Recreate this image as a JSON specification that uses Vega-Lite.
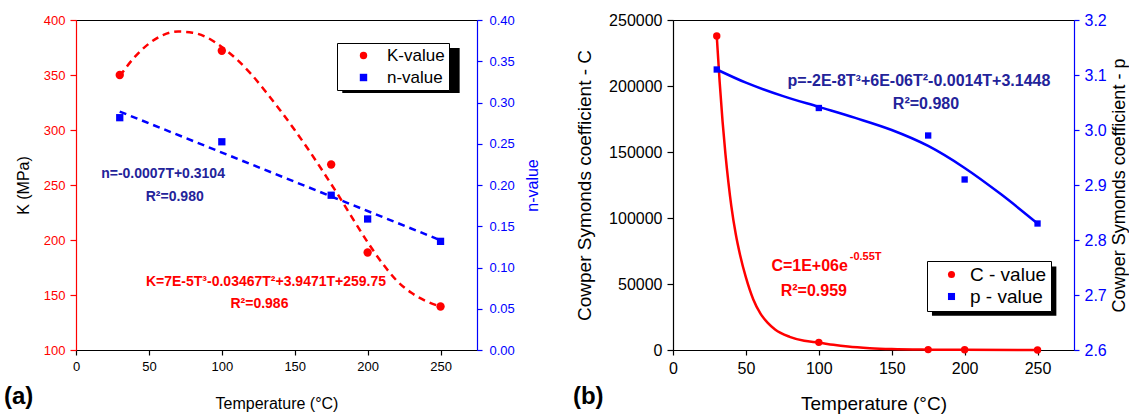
{
  "$schema": "https://vega.github.io/schema/vega-lite/v6.json",
  "background": "white",
  "padding": {"left": 3, "top": 11, "right": 0, "bottom": 0},
  "spacing": 31,
  "datasets": {
    "a_K": [
      {"T": 30, "K": 350, "series": "K-value"},
      {"T": 100, "K": 372, "series": "K-value"},
      {"T": 175, "K": 268.6, "series": "K-value"},
      {"T": 200, "K": 188.6, "series": "K-value"},
      {"T": 250, "K": 139.5, "series": "K-value"}
    ],
    "a_n": [
      {"T": 30, "n": 0.2816, "series": "n-value"},
      {"T": 100, "n": 0.2524, "series": "n-value"},
      {"T": 175, "n": 0.1876, "series": "n-value"},
      {"T": 200, "n": 0.1588, "series": "n-value"},
      {"T": 250, "n": 0.1317, "series": "n-value"}
    ],
    "a_Kfit": [
      {"T": 30, "K": 349}, {"T": 40, "K": 366}, {"T": 50, "K": 378.5}, {"T": 60, "K": 386.5},
      {"T": 70, "K": 389.5}, {"T": 80, "K": 388.5}, {"T": 90, "K": 384}, {"T": 100, "K": 375.5},
      {"T": 110, "K": 364.5}, {"T": 120, "K": 351}, {"T": 130, "K": 335}, {"T": 140, "K": 318},
      {"T": 150, "K": 300}, {"T": 160, "K": 281}, {"T": 170, "K": 261}, {"T": 180, "K": 240.5},
      {"T": 190, "K": 219}, {"T": 200, "K": 198}, {"T": 210, "K": 179}, {"T": 220, "K": 163},
      {"T": 230, "K": 152}, {"T": 240, "K": 144.5}, {"T": 250, "K": 139.5}
    ],
    "a_nfit": [
      {"T": 30, "n": 0.289}, {"T": 250, "n": 0.133}
    ],
    "b_C": [
      {"T": 30, "C": 237900, "series": "C - value"},
      {"T": 100, "C": 5800, "series": "C - value"},
      {"T": 175, "C": 300, "series": "C - value"},
      {"T": 200, "C": 150, "series": "C - value"},
      {"T": 250, "C": 60, "series": "C - value"}
    ],
    "b_p": [
      {"T": 30, "p": 3.110, "series": "p - value"},
      {"T": 100, "p": 3.040, "series": "p - value"},
      {"T": 175, "p": 2.990, "series": "p - value"},
      {"T": 200, "p": 2.910, "series": "p - value"},
      {"T": 250, "p": 2.830, "series": "p - value"}
    ],
    "b_Cfit": [
      {"T": 30, "C": 237900}, {"T": 32, "C": 203000}, {"T": 34, "C": 173000}, {"T": 36, "C": 148000},
      {"T": 38, "C": 127000}, {"T": 40, "C": 109000}, {"T": 43, "C": 88000}, {"T": 46, "C": 72000},
      {"T": 50, "C": 55000}, {"T": 55, "C": 38500}, {"T": 60, "C": 27500}, {"T": 65, "C": 20500},
      {"T": 70, "C": 15500}, {"T": 80, "C": 10000}, {"T": 90, "C": 7000}, {"T": 100, "C": 5600},
      {"T": 110, "C": 3900}, {"T": 120, "C": 2600}, {"T": 135, "C": 1400}, {"T": 150, "C": 700},
      {"T": 175, "C": 250}, {"T": 200, "C": 100}, {"T": 250, "C": 20}
    ],
    "b_pfit": [
      {"T": 30, "p": 3.110}, {"T": 50, "p": 3.086}, {"T": 75, "p": 3.062}, {"T": 100, "p": 3.042},
      {"T": 125, "p": 3.022}, {"T": 150, "p": 3.000}, {"T": 175, "p": 2.971}, {"T": 200, "p": 2.931},
      {"T": 225, "p": 2.883}, {"T": 250, "p": 2.830}
    ]
  },
  "hconcat": [
    {
      "width": 401,
      "height": 330,
      "layer": [
        {
          "layer": [
            {
              "data": {"name": "a_Kfit"},
              "mark": {"type": "line", "color": "#ff0000", "strokeWidth": 2.5, "strokeDash": [7, 5], "interpolate": "monotone"},
              "encoding": {
                "x": {"field": "T", "type": "quantitative",
                  "scale": {"domain": [0, 275], "nice": false, "zero": false},
                  "axis": {"title": "Temperature (°C)", "values": [0, 25, 50, 75, 100, 125, 150, 175, 200, 225, 250, 275],
                    "labelExpr": "datum.value % 50 === 0 && datum.value <= 250 ? datum.label : ''",
                    "tickSize": 5, "labelPadding": 5, "labelFontSize": 13, "titleFontSize": 16, "titlePadding": 22}},
                "y": {"field": "K", "type": "quantitative",
                  "scale": {"domain": [100, 400], "nice": false, "zero": false},
                  "axis": {"title": "K (MPa)", "values": [100, 125, 150, 175, 200, 225, 250, 275, 300, 325, 350, 375, 400],
                    "labelExpr": "datum.value % 50 === 0 ? datum.label : ''",
                    "tickSize": 6, "labelPadding": 5, "labelFontSize": 13, "titleFontSize": 16, "titlePadding": 12,
                    "domainColor": "#ff0000", "tickColor": "#ff0000", "labelColor": "#ff0000", "titleColor": "black"}}
              }
            },
            {
              "data": {"name": "a_K"},
              "mark": {"type": "point", "filled": true, "opacity": 1, "size": 70, "strokeWidth": 0},
              "encoding": {
                "x": {"field": "T", "type": "quantitative"},
                "y": {"field": "K", "type": "quantitative", "axis": {"title": "K (MPa)"}},
                "color": {"field": "series", "type": "nominal",
                  "scale": {"domain": ["K-value", "n-value"], "range": ["#ff0000", "#0000ff"]},
                  "legend": {"title": null, "orient": "none", "legendX": 261, "legendY": 23,
                    "fillColor": "white", "strokeColor": "black", "padding": 4, "rowPadding": 4,
                    "labelFontSize": 17, "labelColor": "black", "symbolSize": 55, "symbolOffset": 14, "labelOffset": 15}},
                "shape": {"field": "series", "type": "nominal",
                  "scale": {"domain": ["K-value", "n-value"], "range": ["circle", "square"]}}
              }
            },
            {
              "data": {"values": [{}]},
              "mark": {"type": "rect", "color": "black"},
              "encoding": {
                "x": {"datum": 182.6, "type": "quantitative"}, "x2": {"datum": 263.1},
                "y": {"datum": 374.5, "type": "quantitative"}, "y2": {"datum": 333.6}
              }
            },
            {
              "data": {"values": [{}]},
              "mark": {"type": "text", "text": "n=-0.0007T+0.3104", "fontSize": 14, "fontWeight": "bold", "color": "#23239a", "align": "center", "baseline": "middle"},
              "encoding": {"x": {"datum": 59.7, "type": "quantitative"}, "y": {"datum": 260, "type": "quantitative"}}
            },
            {
              "data": {"values": [{}]},
              "mark": {"type": "text", "text": "R²=0.980", "fontSize": 14, "fontWeight": "bold", "color": "#23239a", "align": "center", "baseline": "middle"},
              "encoding": {"x": {"datum": 67.7, "type": "quantitative"}, "y": {"datum": 238.7, "type": "quantitative"}}
            },
            {
              "data": {"values": [{}]},
              "mark": {"type": "text", "text": "K=7E-5T³-0.03467T²+3.9471T+259.75", "fontSize": 14, "fontWeight": "bold", "color": "#ff0000", "align": "center", "baseline": "middle"},
              "encoding": {"x": {"datum": 130.3, "type": "quantitative"}, "y": {"datum": 161.5, "type": "quantitative"}}
            },
            {
              "data": {"values": [{}]},
              "mark": {"type": "text", "text": "R²=0.986", "fontSize": 14, "fontWeight": "bold", "color": "#ff0000", "align": "center", "baseline": "middle"},
              "encoding": {"x": {"datum": 125.8, "type": "quantitative"}, "y": {"datum": 141.8, "type": "quantitative"}}
            },
            {
              "data": {"values": [{}]},
              "mark": {"type": "text", "text": "(a)", "fontSize": 24, "fontWeight": "bold", "color": "black", "align": "left", "baseline": "middle"},
              "encoding": {"x": {"datum": -49.4, "type": "quantitative"}, "y": {"datum": 57.5, "type": "quantitative"}}
            }
          ]
        },
        {
          "layer": [
            {
              "data": {"name": "a_nfit"},
              "mark": {"type": "line", "color": "#0000ff", "strokeWidth": 2.5, "strokeDash": [7, 5]},
              "encoding": {
                "x": {"field": "T", "type": "quantitative"},
                "y": {"field": "n", "type": "quantitative",
                  "scale": {"domain": [0, 0.4], "nice": false, "zero": false},
                  "axis": {"orient": "right", "title": "n-value", "values": [0, 0.05, 0.1, 0.15, 0.2, 0.25, 0.3, 0.35, 0.4],
                    "format": ".2f", "tickSize": 5, "labelPadding": 7, "labelFontSize": 13, "titleFontSize": 16, "titlePadding": 10,
                    "titleAngle": 270, "titleBaseline": "top",
                    "domainColor": "#0000ff", "tickColor": "#0000ff", "labelColor": "#0000ff", "titleColor": "#0000ff"}}
              }
            },
            {
              "data": {"name": "a_n"},
              "mark": {"type": "point", "filled": true, "opacity": 1, "size": 53, "strokeWidth": 0},
              "encoding": {
                "x": {"field": "T", "type": "quantitative"},
                "y": {"field": "n", "type": "quantitative", "axis": {"orient": "right", "title": "n-value"}},
                "color": {"field": "series", "type": "nominal",
                  "scale": {"domain": ["K-value", "n-value"], "range": ["#ff0000", "#0000ff"]}},
                "shape": {"field": "series", "type": "nominal",
                  "scale": {"domain": ["K-value", "n-value"], "range": ["circle", "square"]}}
              }
            }
          ]
        }
      ],
      "resolve": {"scale": {"y": "independent"}}
    },
    {
      "width": 401,
      "height": 330,
      "layer": [
        {
          "layer": [
            {
              "data": {"name": "b_Cfit"},
              "mark": {"type": "line", "color": "#ff0000", "strokeWidth": 2.5, "interpolate": "monotone"},
              "encoding": {
                "x": {"field": "T", "type": "quantitative",
                  "scale": {"domain": [0, 275], "nice": false, "zero": false},
                  "axis": {"title": "Temperature (°C)", "values": [0, 25, 50, 75, 100, 125, 150, 175, 200, 225, 250, 275],
                    "labelExpr": "datum.value % 50 === 0 && datum.value <= 250 ? datum.label : ''",
                    "tickSize": 5, "labelPadding": 5, "labelFontSize": 16, "titleFontSize": 19, "titlePadding": 18}},
                "y": {"field": "C", "type": "quantitative",
                  "scale": {"domain": [0, 250000], "nice": false, "zero": false},
                  "axis": {"title": "Cowper Symonds coefficient - C", "values": [0, 25000, 50000, 75000, 100000, 125000, 150000, 175000, 200000, 225000, 250000],
                    "format": "d", "labelExpr": "datum.value % 50000 === 0 ? datum.label : ''",
                    "tickSize": 6, "labelPadding": 5, "labelFontSize": 16, "titleFontSize": 19, "titlePadding": 14}}
              }
            },
            {
              "data": {"name": "b_C"},
              "mark": {"type": "point", "filled": true, "opacity": 1, "size": 55, "strokeWidth": 0},
              "encoding": {
                "x": {"field": "T", "type": "quantitative"},
                "y": {"field": "C", "type": "quantitative", "axis": {"title": "Cowper Symonds coefficient - C"}},
                "color": {"field": "series", "type": "nominal",
                  "scale": {"domain": ["C - value", "p - value"], "range": ["#ff0000", "#0000ff"]},
                  "legend": {"title": null, "orient": "none", "legendX": 254, "legendY": 241,
                    "fillColor": "white", "strokeColor": "black", "padding": 4, "rowPadding": 2,
                    "labelFontSize": 19, "labelColor": "black", "symbolSize": 50, "symbolOffset": 11, "labelOffset": 9}},
                "shape": {"field": "series", "type": "nominal",
                  "scale": {"domain": ["C - value", "p - value"], "range": ["circle", "square"]}}
              }
            },
            {
              "data": {"values": [{}]},
              "mark": {"type": "rect", "color": "black"},
              "encoding": {
                "x": {"datum": 177.6, "type": "quantitative"}, "x2": {"datum": 262.9},
                "y": {"datum": 63330, "type": "quantitative"}, "y2": {"datum": 25980}
              }
            },
            {
              "data": {"values": [{}]},
              "mark": {"type": "text", "text": "p=-2E-8T³+6E-06T²-0.0014T+3.1448", "fontSize": 16, "fontWeight": "bold", "color": "#23239a", "align": "center", "baseline": "middle"},
              "encoding": {"x": {"datum": 168.7, "type": "quantitative"}, "y": {"datum": 204000, "type": "quantitative"}}
            },
            {
              "data": {"values": [{}]},
              "mark": {"type": "text", "text": "R²=0.980", "fontSize": 16, "fontWeight": "bold", "color": "#23239a", "align": "center", "baseline": "middle"},
              "encoding": {"x": {"datum": 173.5, "type": "quantitative"}, "y": {"datum": 186400, "type": "quantitative"}}
            },
            {
              "data": {"values": [{}]},
              "mark": {"type": "text", "text": "C=1E+06e", "fontSize": 16, "fontWeight": "bold", "color": "#ff0000", "align": "center", "baseline": "middle"},
              "encoding": {"x": {"datum": 93.7, "type": "quantitative"}, "y": {"datum": 63860, "type": "quantitative"}}
            },
            {
              "data": {"values": [{}]},
              "mark": {"type": "text", "text": "-0.55T", "fontSize": 11, "fontWeight": "bold", "color": "#ff0000", "align": "left", "baseline": "middle"},
              "encoding": {"x": {"datum": 121.2, "type": "quantitative"}, "y": {"datum": 70150, "type": "quantitative"}}
            },
            {
              "data": {"values": [{}]},
              "mark": {"type": "text", "text": "R²=0.959", "fontSize": 16, "fontWeight": "bold", "color": "#ff0000", "align": "center", "baseline": "middle"},
              "encoding": {"x": {"datum": 96.6, "type": "quantitative"}, "y": {"datum": 44920, "type": "quantitative"}}
            },
            {
              "data": {"values": [{}]},
              "mark": {"type": "text", "text": "(b)", "fontSize": 24, "fontWeight": "bold", "color": "black", "align": "left", "baseline": "middle"},
              "encoding": {"x": {"datum": -68.6, "type": "quantitative"}, "y": {"datum": -35400, "type": "quantitative"}}
            }
          ]
        },
        {
          "layer": [
            {
              "data": {"name": "b_pfit"},
              "mark": {"type": "line", "color": "#0000ff", "strokeWidth": 2.5, "interpolate": "monotone"},
              "encoding": {
                "x": {"field": "T", "type": "quantitative"},
                "y": {"field": "p", "type": "quantitative",
                  "scale": {"domain": [2.6, 3.2], "nice": false, "zero": false},
                  "axis": {"orient": "right", "title": "Cowper Symonds coefficient - p",
                    "values": [2.6, 2.65, 2.7, 2.75, 2.8, 2.85, 2.9, 2.95, 3.0, 3.05, 3.1, 3.15, 3.2],
                    "labelExpr": "round(datum.value * 100) % 10 === 0 ? format(datum.value, '.1f') : ''",
                    "tickSize": 5, "labelPadding": 5, "labelFontSize": 16, "titleFontSize": 18, "titlePadding": 4,
                    "titleAngle": 270, "titleBaseline": "top",
                    "domainColor": "#0000ff", "tickColor": "#0000ff", "labelColor": "#0000ff", "titleColor": "black"}}
              }
            },
            {
              "data": {"name": "b_p"},
              "mark": {"type": "point", "filled": true, "opacity": 1, "size": 40, "strokeWidth": 0},
              "encoding": {
                "x": {"field": "T", "type": "quantitative"},
                "y": {"field": "p", "type": "quantitative", "axis": {"orient": "right", "title": "Cowper Symonds coefficient - p"}},
                "color": {"field": "series", "type": "nominal",
                  "scale": {"domain": ["C - value", "p - value"], "range": ["#ff0000", "#0000ff"]}},
                "shape": {"field": "series", "type": "nominal",
                  "scale": {"domain": ["C - value", "p - value"], "range": ["circle", "square"]}}
              }
            }
          ]
        }
      ],
      "resolve": {"scale": {"y": "independent"}}
    }
  ],
  "resolve": {
    "scale": {"color": "independent", "shape": "independent"},
    "legend": {"color": "independent", "shape": "independent"}
  },
  "config": {
    "font": "Liberation Sans",
    "view": {"stroke": "black", "strokeWidth": 1},
    "axis": {
      "grid": false, "labelFont": "Liberation Sans", "titleFont": "Liberation Sans", "titleFontWeight": "normal",
      "domainColor": "black", "tickColor": "black", "labelColor": "black", "titleColor": "black",
      "labelFlush": false, "labelOverlap": false, "labelBound": false, "domainWidth": 1.2, "tickWidth": 1.2
    },
    "legend": {"labelFont": "Liberation Sans", "symbolStrokeWidth": 0},
    "text": {"font": "Liberation Sans"}
  }
}
